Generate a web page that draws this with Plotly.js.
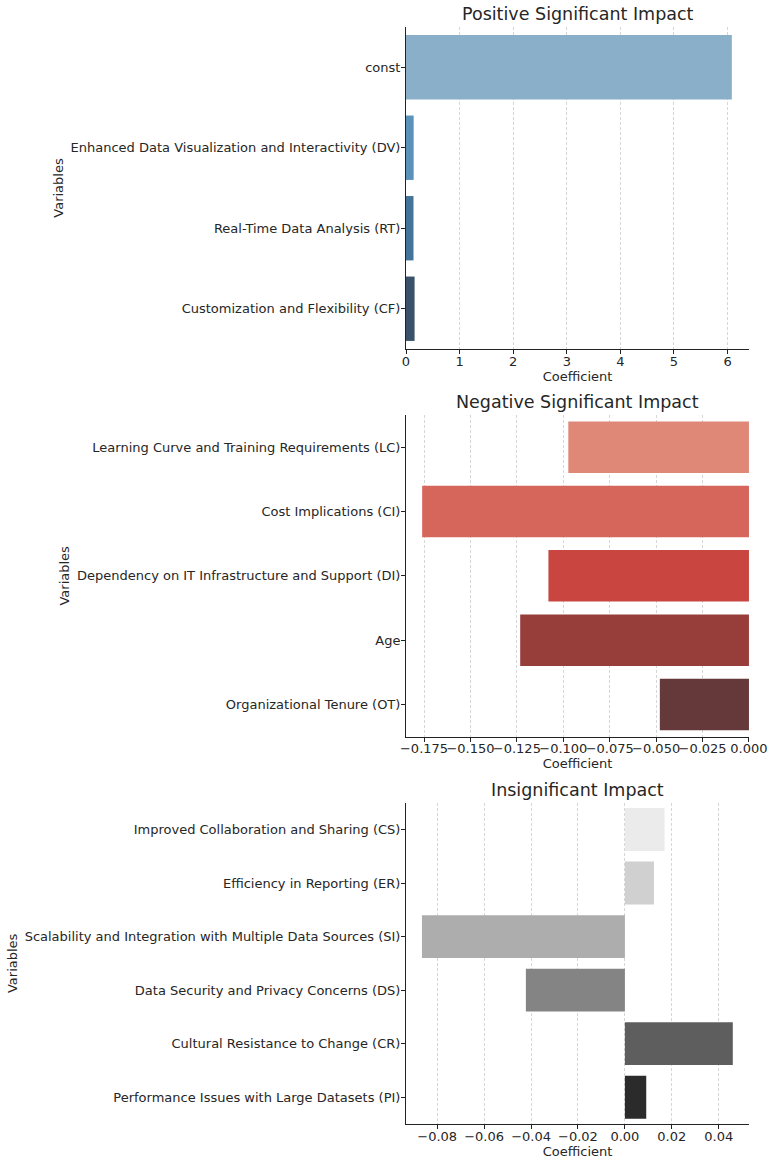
<!DOCTYPE html>
<html>
<head>
<meta charset="utf-8">
<script src="https://cdn.plot.ly/plotly-3.0.1.min.js"></script>
<style>html,body{margin:0;padding:0;background:#fff;}#chart{width:775px;height:1166px;}</style>
</head>
<body>
<div id="chart"></div>
<script>
// ---- data ----
const posLabels = ['const', 'Enhanced Data Visualization and Interactivity (DV)', 'Real-Time Data Analysis (RT)', 'Customization and Flexibility (CF)'];
const posValues = [6.08, 0.143, 0.14, 0.16];

const negLabels = ['Learning Curve and Training Requirements (LC)', 'Cost Implications (CI)', 'Dependency on IT Infrastructure and Support (DI)', 'Age', 'Organizational Tenure (OT)'];
const negValues = [-0.0973, -0.176, -0.108, -0.1232, -0.048];

const insLabels = ['Improved Collaboration and Sharing (CS)', 'Efficiency in Reporting (ER)', 'Scalability and Integration with Multiple Data Sources (SI)', 'Data Security and Privacy Concerns (DS)', 'Cultural Resistance to Change (CR)', 'Performance Issues with Large Datasets (PI)'];
const insValues = [0.0169, 0.0124, -0.0865, -0.0422, 0.046, 0.0091];

const panelTitles = ['Positive Significant Impact', 'Negative Significant Impact', 'Insignificant Impact'];

// ---- styles ----
const posColors = ['#8AAFC9', '#5A92BA', '#44749A', '#3A5269'];
const negColors = ['#E08878', '#D6665B', '#C94540', '#973E3B', '#653839'];
const insColors = ['#EBEBEB', '#D0D0D0', '#ADADAD', '#848484', '#5E5E5E', '#2B2B2B'];

const FONT = 'DejaVu Sans, Verdana, sans-serif';
const TXT = '#262626';
const FS = 13;

function barTrace(labels, values, colors, ax) {
  return {
    type: 'bar', orientation: 'h',
    x: values, y: labels,
    marker: {color: colors, line: {width: 0}},
    xaxis: 'x' + ax, yaxis: 'y' + ax,
    hoverinfo: 'x+y', showlegend: false
  };
}

function xAxis(range, dtick, fmt, anchor) {
  return {
    anchor: anchor, domain: [0, 1], range: range, dtick: dtick, tick0: 0,
    tickformat: fmt, tickangle: 0,
    showline: true, linecolor: '#222', linewidth: 1,
    ticks: 'outside', ticklen: 4, tickcolor: '#222', tickwidth: 1,
    ticklabelstandoff: -4,
    showgrid: true, gridcolor: '#cccccc', gridwidth: 0.8, griddash: '3px,2px',
    zeroline: false,
    tickfont: {family: FONT, size: FS, color: TXT},
    title: {text: 'Coefficient', font: {family: FONT, size: FS, color: TXT}, standoff: 3}
  };
}

function yAxis(labels, domain, anchor) {
  return {
    anchor: anchor, domain: domain, type: 'category',
    categoryorder: 'array', categoryarray: labels,
    range: [labels.length - 0.5, -0.5],
    showline: true, linecolor: '#222', linewidth: 1,
    ticks: 'outside', ticklen: 4, tickcolor: '#222', tickwidth: 1,
    ticklabelstandoff: -2,
    showgrid: false, zeroline: false,
    tickfont: {family: FONT, size: FS, color: TXT},
    title: {text: 'Variables', font: {family: FONT, size: FS, color: TXT}, standoff: 4}
  };
}

const data = [
  barTrace(posLabels, posValues, posColors, ''),
  barTrace(negLabels, negValues, negColors, '2'),
  barTrace(insLabels, insValues, insColors, '3')
];

const layout = {
  width: 775, height: 1166,
  margin: {l: 406, r: 26, t: 27, b: 42},
  paper_bgcolor: '#fff', plot_bgcolor: '#fff',
  bargap: 0.2,
  font: {family: FONT, size: FS, color: TXT},
  xaxis: xAxis([0, 6.4], 1, 'd', 'y'),
  yaxis: yAxis(posLabels, [0.7065, 1.0], 'x'),
  xaxis2: xAxis([-0.1847, 0.00002], 0.025, '.3f', 'y2'),
  yaxis2: yAxis(negLabels, [0.3531, 0.6463], 'x2'),
  xaxis3: xAxis([-0.0933, 0.0529], 0.02, '.2f', 'y3'),
  yaxis3: yAxis(insLabels, [0, 0.2929], 'x3'),
  annotations: panelTitles.map((t, i) => ({
    text: t, showarrow: false,
    xref: (i === 0 ? 'x' : 'x' + (i + 1)) + ' domain',
    yref: (i === 0 ? 'y' : 'y' + (i + 1)) + ' domain',
    x: 0.5, y: 1, xanchor: 'center', yanchor: 'bottom', yshift: 1,
    font: {family: FONT, size: 17.5, color: TXT}
  }))
};

Plotly.newPlot('chart', data, layout, {displayModeBar: false, staticPlot: true});
</script>
</body>
</html>
